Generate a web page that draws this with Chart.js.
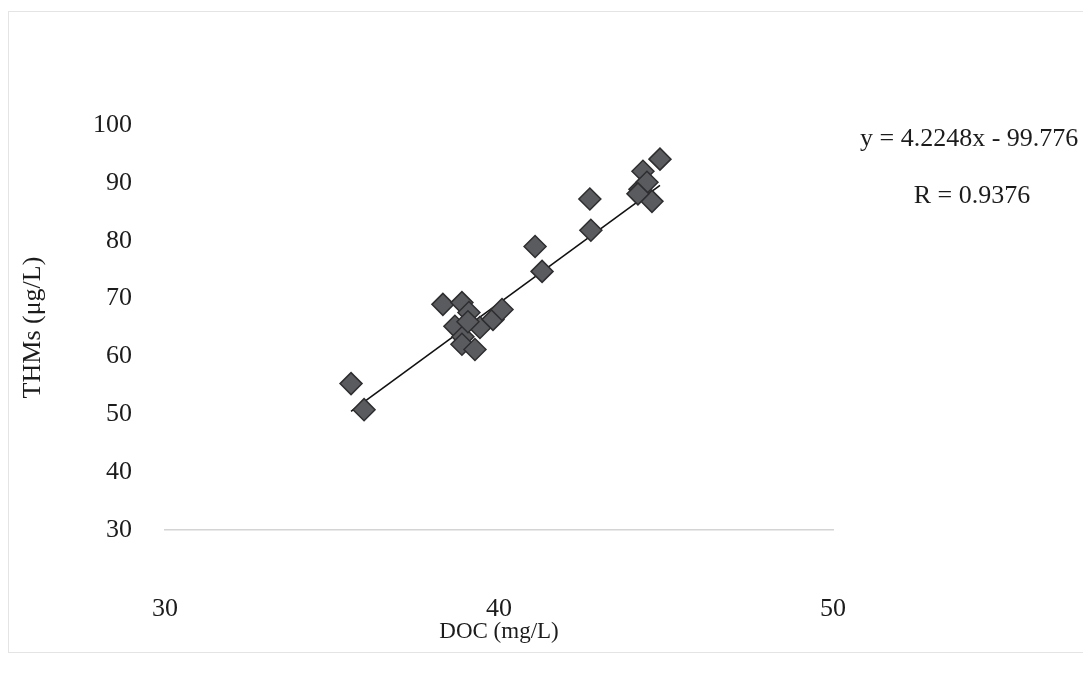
<!DOCTYPE html>
<html>
<head>
<meta charset="utf-8">
<script src="https://cdn.jsdelivr.net/npm/chart.js@4/dist/chart.umd.min.js"></script>
<style>
  html, body { margin: 0; padding: 0; background: #fff; }
  #wrap { position: relative; width: 1083px; height: 676px; }
  /* thin frame round the figure */
  #frame { position: absolute; left: 8px; top: 11px; width: 1090px; height: 640px; border: 1px solid #e4e4e4; }
  canvas { position: absolute; left: 0; top: 0; }
</style>
</head>
<body>
<div id="wrap">
  <div id="frame"></div>
  <canvas id="scatter" width="1083" height="676"></canvas>
</div>
<script>
// DOC vs THMs samples
const docValues = [35.57, 35.96, 38.32, 38.89, 38.68, 39.10, 39.43, 38.92, 38.89, 39.28, 39.82, 40.09, 39.07,
  41.08, 41.29, 42.72, 42.75, 44.82, 44.31, 44.22, 44.43, 44.58, 44.16]
const thmValues = [55.3, 50.8, 69.0, 69.3, 65.2, 67.6, 65.0, 63.4, 62.1, 61.2, 66.4, 68.1, 66.0,
  79.0, 74.7, 87.2, 81.8, 94.1, 92.0, 88.9, 90.1, 86.8, 88.1]

// linear fit
const slope = 4.2248
const intercept = -99.776
const rValue = 0.9376

const xTicks = [30, 40, 50]
const yTicks = [30, 40, 50, 60, 70, 80, 90, 100]

const points = docValues.map((x, i) => ({ x: x, y: thmValues[i] }))

const xMin = Math.min(...docValues)
const xMax = Math.max(...docValues)
const fitLine = [
  { x: xMin, y: slope * xMin + intercept },
  { x: xMax, y: slope * xMax + intercept }
]

const serif = "'Liberation Serif', 'Times New Roman', serif"

// equation + R text to the right of the plot
const fitText = {
  id: 'fitText',
  afterDraw(chart) {
    const ctx = chart.ctx
    ctx.save()
    ctx.fillStyle = '#1c1c1c'
    ctx.font = '26px ' + serif
    ctx.textBaseline = 'middle'
    ctx.textAlign = 'left'
    ctx.fillText('y = ' + slope + 'x - ' + Math.abs(intercept), 860, 139)
    ctx.textAlign = 'center'
    ctx.fillText('R = ' + rValue, 972, 196)
    ctx.restore()
  }
}

const chart = new Chart(document.getElementById('scatter'), {
  type: 'scatter',
  data: {
    datasets: [
      {
        label: 'THMs',
        data: points,
        pointStyle: 'rectRot',
        pointRadius: 11,
        pointHoverRadius: 11,
        backgroundColor: '#5a5b5e',
        borderColor: '#2e2e30',
        borderWidth: 1.5
      },
      {
        label: 'fit',
        data: fitLine,
        showLine: true,
        pointRadius: 0,
        borderColor: '#111',
        borderWidth: 1.6
      }
    ]
  },
  options: {
    responsive: false,
    animation: false,
    layout: { padding: { top: 125, right: 250, left: 0, bottom: 0 } },
    plugins: { legend: { display: false }, tooltip: { enabled: false } },
    scales: {
      x: {
        type: 'linear',
        min: 30,
        max: 50,
        afterBuildTicks: (scale) => { scale.ticks = xTicks.map(v => ({ value: v })) },
        afterFit: (scale) => { scale.height = 146 },
        grid: { display: false, drawTicks: false },
        border: { display: true, color: '#d4d4d4', width: 1.5 },
        ticks: { color: '#1c1c1c', padding: 64, font: { family: serif, size: 26 } },
        title: { display: true, text: 'DOC (mg/L)', color: '#1c1c1c', padding: 30, font: { family: serif, size: 23 } }
      },
      y: {
        type: 'linear',
        min: 30,
        max: 100,
        afterBuildTicks: (scale) => { scale.ticks = yTicks.map(v => ({ value: v })) },
        afterFit: (scale) => { scale.width = 165 },
        grid: { display: false, drawTicks: false },
        border: { display: false },
        ticks: { color: '#1c1c1c', padding: 33, font: { family: serif, size: 26 } },
        title: { display: true, text: 'THMs (μg/L)', color: '#1c1c1c', padding: 18, font: { family: serif, size: 26 } }
      }
    }
  },
  plugins: [fitText]
})
</script>
</body>
</html>
